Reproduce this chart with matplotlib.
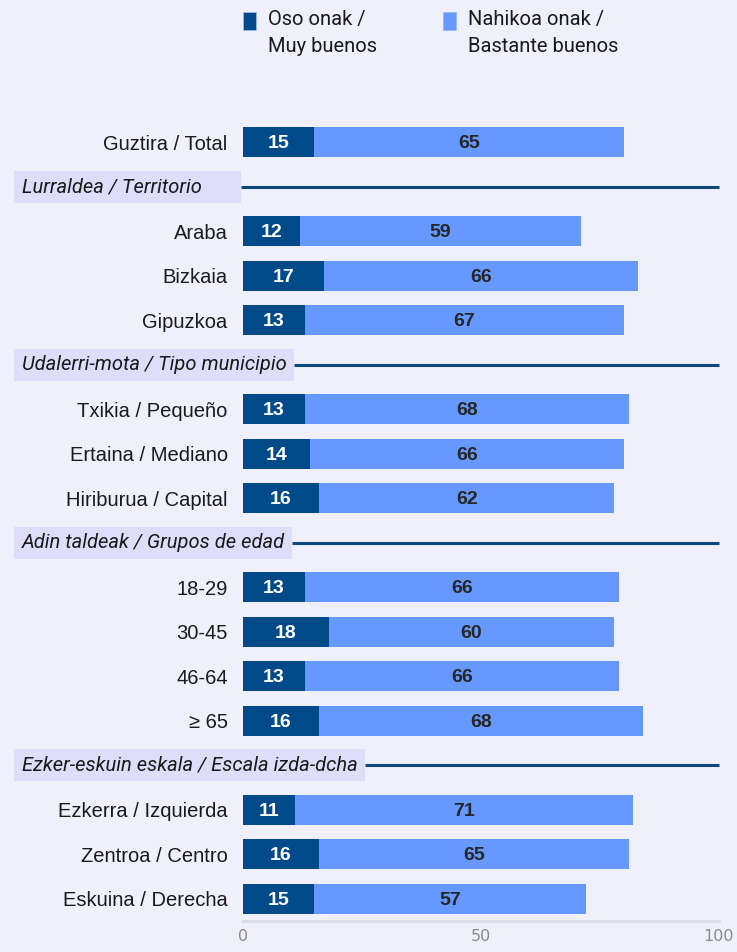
import matplotlib
matplotlib.use("Agg")
import matplotlib.pyplot as plt
from matplotlib.patches import Rectangle

# data
labels = ["Guztira / Total",
          "Araba", "Bizkaia", "Gipuzkoa",
          "Txikia / Pequeño", "Ertaina / Mediano", "Hiriburua / Capital",
          "18-29", "30-45", "46-64", "≥ 65",
          "Ezkerra / Izquierda", "Zentroa / Centro", "Eskuina / Derecha"]
oso = [15, 12, 17, 13, 13, 14, 16, 13, 18, 13, 16, 11, 16, 15]
nahikoa = [65, 59, 66, 67, 68, 66, 62, 66, 60, 66, 68, 71, 65, 57]
group_of = [None, 0, 0, 0, 1, 1, 1, 2, 2, 2, 2, 3, 3, 3]
section_titles = ["Lurraldea / Territorio", "Udalerri-mota / Tipo municipio",
                  "Adin taldeak / Grupos de edad", "Ezker-eskuin eskala / Escala izda-dcha"]
legend_labels = ["Oso onak /\nMuy buenos", "Nahikoa onak /\nBastante buenos"]

bg = "#F0F0FC"
dark = "#004A8A"
light = "#6699FF"
header_bg = "#DEDEFA"
line_col = "#0D4A7A"

# build row positions, inserting a header slot when the group changes
ypos, headers = [], []
slot, prev = 0, None
for g in group_of:
    if g is not None and g != prev:
        headers.append((slot, section_titles[g]))
        slot += 1
    ypos.append(slot)
    slot += 1
    prev = g
nslots = slot

W, H = 737, 952
fig = plt.figure(figsize=(W / 100, H / 100), dpi=100, facecolor=bg)
ax = fig.add_axes([243 / W, 1 - 921 / H, 476 / W, 801 / H])
ax.set_facecolor(bg)

ax.barh(ypos, oso, height=0.67, color=dark)
ax.barh(ypos, nahikoa, left=oso, height=0.67, color=light)

for y, a, b in zip(ypos, oso, nahikoa):
    ax.text(a / 2, y + 0.03, str(a), ha="center", va="center", color="white",
            fontsize=14, fontweight="bold", family="Liberation Sans")
    ax.text(a + b / 2, y + 0.03, str(b), ha="center", va="center", color="#262626",
            fontsize=14, fontweight="bold", family="Liberation Sans")

ax.set_xlim(0, 100)
ax.set_ylim(nslots - 0.5, -0.5)
ax.set_yticks(ypos)
ax.set_yticklabels(labels, fontsize=14.5, family="Liberation Sans", color="#1a1a1a")
ax.set_xticks([0, 50, 100])
ax.tick_params(axis="y", length=0, pad=11)
ax.tick_params(axis="x", length=0, pad=6, labelsize=11.5, labelcolor="#8a8a8a")
for s in ["top", "right", "left"]:
    ax.spines[s].set_visible(False)
ax.spines["bottom"].set_color("#DCDCE4")
ax.spines["bottom"].set_linewidth(2)

# section headers: shaded box behind the title, then a rule to the right edge
htexts = []
for slot_y, title in headers:
    t = ax.text(-221 / 476, slot_y, title, ha="left", va="center",
                transform=ax.get_yaxis_transform(), fontsize=14.5, style="italic",
                family="Roboto", color="#1a1a1a", clip_on=False, zorder=3)
    htexts.append((slot_y, t))

fig.canvas.draw()
inv = ax.transAxes.inverted()
box_left = inv.transform((14, 0))[0]
pad = 7 / 476
box_h = 32 / 801 * nslots
for slot_y, t in htexts:
    ext = t.get_window_extent()
    x1 = max(inv.transform((ext.x1, 0))[0] + pad, -2 / 476)
    ax.add_patch(Rectangle((box_left, slot_y - box_h / 2), x1 - box_left, box_h,
                           transform=ax.get_yaxis_transform(), fc=header_bg, ec="none",
                           clip_on=False, zorder=2))
    ax.plot([x1, 1], [slot_y, slot_y], transform=ax.get_yaxis_transform(),
            color=line_col, lw=2.2, clip_on=False, solid_capstyle="butt")

# legend
for lx, col, lab in [(243, dark, legend_labels[0]), (443, light, legend_labels[1])]:
    fig.patches.append(Rectangle((lx / W, 1 - 30 / H), 13 / W, 18 / H,
                                 transform=fig.transFigure, fc=col, ec="#9ab8f0", lw=0.6))
    fig.text((lx + 25) / W, 1 - 10 / H, lab, ha="left", va="top", fontsize=14.5,
             family="Roboto", color="#1a1a1a", linespacing=1.5)

fig.savefig("out.png", dpi=100, facecolor=bg)
